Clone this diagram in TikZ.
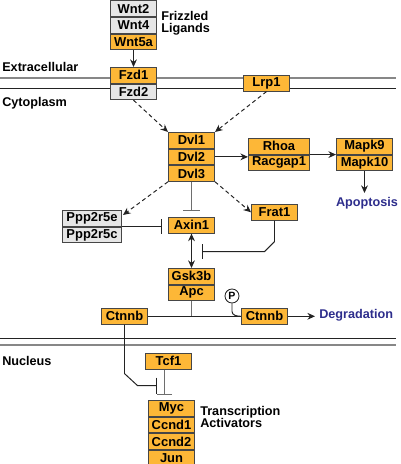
\documentclass[tikz,border=0pt]{standalone}
\usepackage{fontspec}
\setmainfont{Liberation Sans}
\usepackage{xcolor}
\usepackage{tikz}
\usetikzlibrary{arrows.meta, positioning, calc}
\definecolor{naranja}{RGB}{253,183,55}
\definecolor{grisgen}{RGB}{230,230,230}
\definecolor{borde}{RGB}{70,70,70}
\definecolor{oscuro}{RGB}{35,35,35}
\definecolor{azulproc}{RGB}{45,45,140}
\definecolor{membrana}{RGB}{135,135,135}
\definecolor{linea}{RGB}{110,110,110}

\begin{document}
\begin{tikzpicture}[x=0.025cm, y=-0.025cm, >={Stealth[length=1.9mm, width=1.7mm]},
      gen/.style={rectangle, draw=borde, fill=naranja, line width=0.7pt, minimum width=1.15cm,
                  minimum height=0.39cm, inner sep=0pt, font=\fontsize{9.2}{9.5}\selectfont\bfseries},
      off/.style={fill=grisgen},
      lbl/.style={font=\fontsize{9}{8.4}\selectfont\bfseries, align=left, inner sep=0pt},
      proc/.style={lbl, text=azulproc},
      con/.style={draw=oscuro, line width=0.7pt},
      inh/.style={con, -{Bar[width=4mm]}},
      dsh/.style={con, ->, dash pattern=on 0.1cm off 0.075cm}]
  \useasboundingbox (0,0) rectangle (400,464);

  \draw[membrana, line width=1.4pt] (0,78) -- (396,78);
  \draw[oscuro, line width=0.7pt] (0,88) -- (396,88);
  \draw[oscuro, line width=0.7pt] (0,338) -- (396,338);
  \draw[membrana, line width=1.4pt] (0,345) -- (396,345);

  \node[lbl, anchor=west] (EX) at (2,67) {Extracellular};
  \node[lbl, anchor=west] (CY) at (2,103) {Cytoplasm};
  \node[lbl, anchor=west] (NU) at (2,361) {Nucleus};

  \node[gen, off, anchor=north west] (W2) at (110,0.5) {Wnt2};
  \node[gen, off, below=0pt of W2] (W4) {Wnt4};
  \node[gen, below=0pt of W4] (W5a) {Wnt5a};
  \node[lbl, anchor=west] (FL) at (161,23) {Frizzled\\Ligands};

  \node[gen, anchor=north west] (F1) at (110,67) {Fzd1};
  \node[gen, off, below=0pt of F1] (F2) {Fzd2};
  \node[gen, anchor=north west] (L1) at (243,75) {Lrp1};

  \node[gen, anchor=north west] (D1) at (168,132) {Dvl1};
  \node[gen, below=0pt of D1] (D2) {Dvl2};
  \node[gen, below=0pt of D2] (D3) {Dvl3};

  \node[gen, minimum width=1.525cm, anchor=north west] (R1) at (248,138) {Rhoa};
  \node[gen, minimum width=1.525cm, below=0pt of R1] (R2) {Racgap1};
  \node[gen, minimum width=1.4cm, anchor=north west] (M9) at (336,138) {Mapk9};
  \node[gen, minimum width=1.4cm, below=0pt of M9] (M10) {Mapk10};
  \node[proc, anchor=north] (APO) at (367,197) {Apoptosis};

  \node[gen, off, minimum width=1.475cm, anchor=north west] (P5e) at (62,210) {Ppp2r5e};
  \node[gen, off, minimum width=1.475cm, below=0pt of P5e] (P5c) {Ppp2r5c};
  \node[gen, anchor=north west] (A1) at (168,217) {Axin1};
  \node[gen, anchor=north west] (FR) at (251,204) {Frat1};

  \node[gen, anchor=north west] (G3) at (168,268) {Gsk3b};
  \node[gen, below=0pt of G3] (AP) {Apc};

  \node[gen, anchor=north west] (CL) at (101,308) {Ctnnb};
  \node[gen, anchor=north west] (CR) at (241,308) {Ctnnb};
  \node[circle, draw=oscuro, line width=0.6pt, fill=white, minimum size=0.35cm, inner sep=0pt,
        font=\fontsize{7.5}{7.5}\selectfont\bfseries] (PH) at (232,296) {P};
  \node[proc, anchor=west] (DG) at (319,315) {Degradation};

  \node[gen, anchor=north west] (T1) at (145,353) {Tcf1};
  \node[gen, anchor=north west] (MY) at (148,400) {Myc};
  \node[gen, below=0pt of MY] (CC1) {Ccnd1};
  \node[gen, below=0pt of CC1] (CC2) {Ccnd2};
  \node[gen, below=0pt of CC2] (JN) {Jun};
  \node[lbl, anchor=west] (TA) at (200,417) {Transcription\\Activators};

  \draw[con, ->] (W5a) -- (F1);
  \draw[dsh] (F2.south) -- (D1.north west);
  \draw[dsh] (L1.south) -- (D1.north east);
  \draw[con, ->] (D2.east) -- (D2.east -| R1.west);
  \draw[con, ->] (R1.south east) -- (M9.south west);
  \draw[con, ->, shorten >=0.1cm] (M10.south) -- (M10.south |- APO.north);

  \draw[inh, draw=linea, shorten >=0.15cm, -{Bar[width=4.2mm]}] (D3.south) -- (A1.north);
  \draw[dsh] (D3.south west) -- ($(P5e.north east)+(1,5)$);
  \draw[dsh] (D3.south east) -- (FR.west);
  \draw[inh, shorten >=0.15cm, -{Bar[width=3.6mm]}] (P5e.south east) -- (P5e.south east -| A1.west);
  \draw[con, <->] (A1) -- (G3);
  \draw[inh, -{Bar[width=3.6mm]}] (FR.south) -- ++(0,21) -- ++(-10,10) -- ++(-63,0);

  \draw[con, draw=linea] (AP.south) -- (AP.south |- CL.east);
  \draw[con] (CL.east) -- (CR.west);
  \draw[con] (PH.south) -- ++(0,8) to[out=-90, in=180] (CR.west);
  \draw[con, ->, shorten >=0.1cm] (CR.east) -- (CR.east -| DG.west);

  \draw[inh] (CL.south) -- ++(0,49) -- ++(13,12) -- ++(19,0);
  \draw[inh, draw=linea, -{Bar[width=3.8mm]}] ([xshift=-0.1cm]T1.south) -- ++(0,25);
\end{tikzpicture}
\end{document}
